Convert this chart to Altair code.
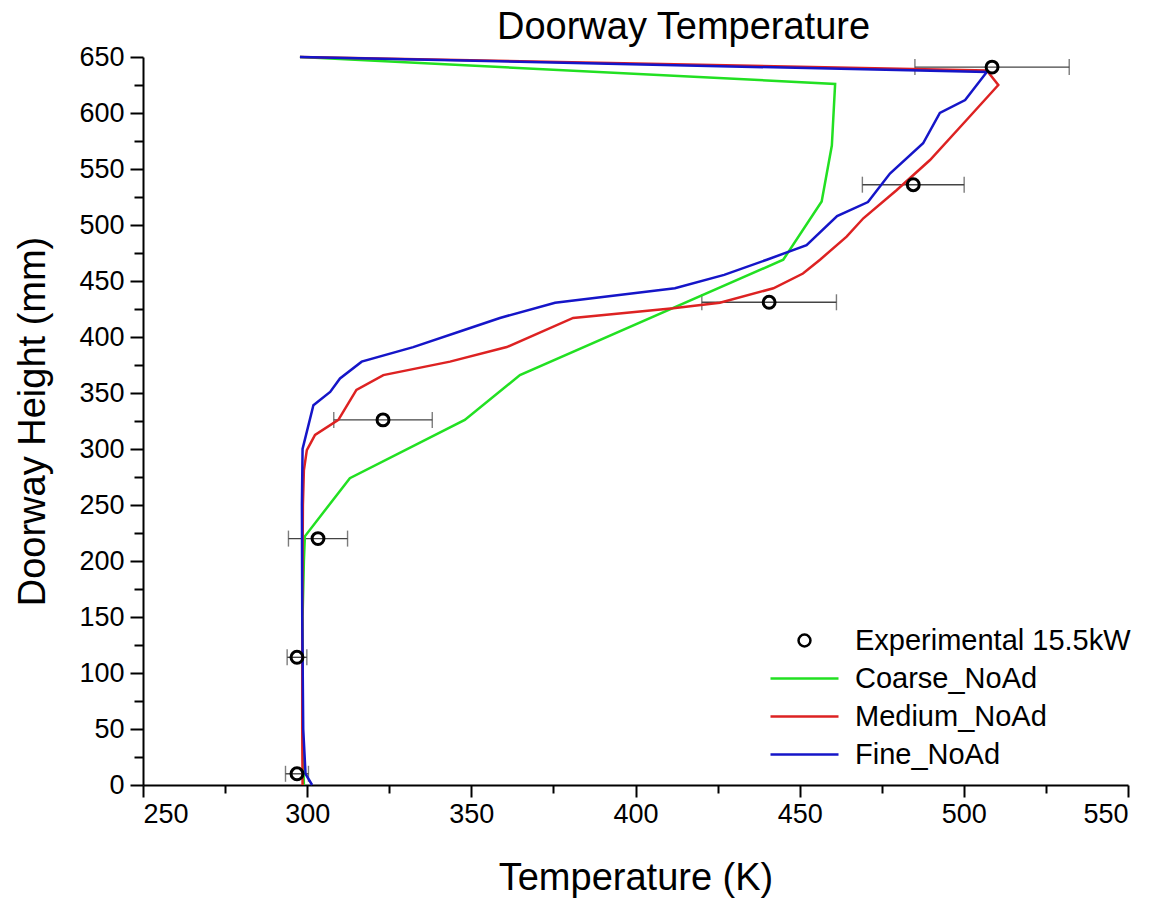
import altair as alt
import pandas as pd

# ---------------- data ----------------
names = ["Experimental 15.5kW", "Coarse_NoAd", "Medium_NoAd", "Fine_NoAd"]

coarse_T = [299.0, 298.6, 298.6, 299.0, 299.3, 313.0, 348.0, 364.8, 445.0, 456.7, 459.8, 460.8, 297.8]
coarse_H = [0, 50, 150, 200, 222, 274, 326, 366, 469, 521, 571, 626, 650]

medium_T = [298.6, 298.5, 298.5, 298.7, 299.0, 299.9, 302.4, 309.5, 315.0, 323.2, 343.5, 360.8,
            381.0, 411.5, 425.7, 442.0, 451.0, 456.2, 464.3, 469.4, 479.5, 489.7, 500.9, 510.5,
            507.0, 297.8]
medium_H = [0, 50, 150, 250, 281, 299, 312.5, 326, 352.7, 366, 378, 391,
            417, 425.6, 430.6, 443.5, 456.7, 469, 489.6, 506, 531, 558, 594, 625,
            638, 650]

fine_T = [301.5, 299.5, 298.8, 298.5, 298.4, 298.6, 301.9, 307.0, 310.0, 316.6, 332.3, 347.6,
          358.7, 375.5, 412.0, 427.0, 440.0, 452.1, 461.4, 470.8, 477.5, 487.6, 492.7, 500.4,
          507.0, 297.8]
fine_H = [0, 10, 50, 150, 250, 300, 339, 351, 363, 378, 391, 406,
          417, 430.6, 443.5, 455.5, 469, 482, 508, 520.5, 546, 573, 600, 611.6,
          636.6, 650]

exp_T = [296.9, 296.9, 303.3, 323.1, 440.7, 484.6, 508.6]
exp_H = [10, 114, 220, 326, 431, 536, 641]
exp_err = [3.5, 3.0, 9.0, 15.0, 20.5, 15.5, 23.5]

x_ticks = list(range(250, 551, 25))   # majors every 50, minors between
y_ticks = list(range(0, 651, 25))

colors = ["#000000", "#22e022", "#dd2222", "#1515c8"]
circle_path = "M-0.7,0A0.7,0.7,0,1,1,0.7,0A0.7,0.7,0,1,1,-0.7,0Z"
line_path = "M-4,0H4"

# ---------------- frames ----------------
def line_df(T, H, name):
    return pd.DataFrame({"T": T, "H": H, "idx": list(range(len(T))), "series": name})

coarse = line_df(coarse_T, coarse_H, names[1])
medium = line_df(medium_T, medium_H, names[2])
fine = line_df(fine_T, fine_H, names[3])
exp = pd.DataFrame({"T": exp_T, "H": exp_H, "series": names[0],
                    "lo": [t - e for t, e in zip(exp_T, exp_err)],
                    "hi": [t + e for t, e in zip(exp_T, exp_err)]})

FONT = "Liberation Sans"
MAJOR = "datum.value % 50 === 0"

xscale = alt.Scale(domain=[250, 550], nice=False, zero=False)
yscale = alt.Scale(domain=[0, 650], nice=False, zero=False)

x_axis = alt.Axis(values=x_ticks, title="Temperature (K)", format="d",
                  labelExpr=f"{MAJOR} ? datum.label : ''",
                  tickSize={"condition": {"test": MAJOR, "value": 12}, "value": 8},
                  labelPadding=4, titlePadding=32)
y_axis = alt.Axis(values=y_ticks, title="Doorway Height (mm)", format="d",
                  labelExpr=f"{MAJOR} ? datum.label : ''",
                  tickSize={"condition": {"test": MAJOR, "value": 13}, "value": 9},
                  labelPadding=6, titlePadding=26)

x_enc = alt.X("T:Q", scale=xscale, axis=x_axis)
y_enc = alt.Y("H:Q", scale=yscale, axis=y_axis)

color_scale = alt.Scale(domain=names, range=colors)
shape_scale = alt.Scale(domain=names, range=[circle_path, line_path, line_path, line_path])

legend = alt.Legend(title=None, orient="none", legendX=647, legendY=569,
                    labelFont=FONT, labelFontSize=29, labelColor="black", labelLimit=0,
                    symbolSize=289, symbolStrokeWidth=2.5, labelOffset=36,
                    rowPadding=8, padding=0, symbolFillColor="white")

color_enc = alt.Color("series:N", scale=color_scale, legend=legend)


def line_layer(df):
    return alt.Chart(df).mark_line(strokeWidth=2.5).encode(
        x=x_enc, y=y_enc, order=alt.Order("idx:Q"), color=color_enc)


err_rule = alt.Chart(exp).mark_rule(color="#444444", strokeWidth=1.4).encode(
    x=alt.X("lo:Q", scale=xscale, axis=x_axis), x2="hi:Q",
    y=alt.Y("H:Q", scale=yscale, axis=y_axis))
err_lo = alt.Chart(exp).mark_tick(color="#444444", orient="vertical", size=16, thickness=1.4).encode(
    x=alt.X("lo:Q", scale=xscale, axis=x_axis), y=alt.Y("H:Q", scale=yscale, axis=y_axis))
err_hi = alt.Chart(exp).mark_tick(color="#444444", orient="vertical", size=16, thickness=1.4).encode(
    x=alt.X("hi:Q", scale=xscale, axis=x_axis), y=alt.Y("H:Q", scale=yscale, axis=y_axis))

points = alt.Chart(exp).mark_point(filled=False, strokeWidth=3, size=289, opacity=1).encode(
    x=x_enc, y=y_enc, color=color_enc,
    shape=alt.Shape("series:N", scale=shape_scale, legend=legend))

chart = alt.layer(
    err_rule, err_lo, err_hi,
    line_layer(coarse), line_layer(medium), line_layer(fine),
    points,
).properties(
    width=985, height=728,
    autosize=alt.AutoSizeParams(type="none"),
    padding={"left": 143, "top": 57, "right": 35, "bottom": 116},
    title=alt.TitleParams("Doorway Temperature", font=FONT, fontSize=38,
                          fontWeight="normal", color="black", anchor="middle",
                          dx=48, dy=22, offset=18),
).configure_view(stroke=None).configure_axis(
    grid=False, domainColor="black", domainWidth=2, tickColor="black", tickWidth=2,
    labelFont=FONT, labelFontSize=27, labelColor="black",
    titleFont=FONT, titleFontSize=38, titleFontWeight="normal", titleColor="black",
)

chart.save("out.html", embed_options={"renderer": "svg", "actions": False})
